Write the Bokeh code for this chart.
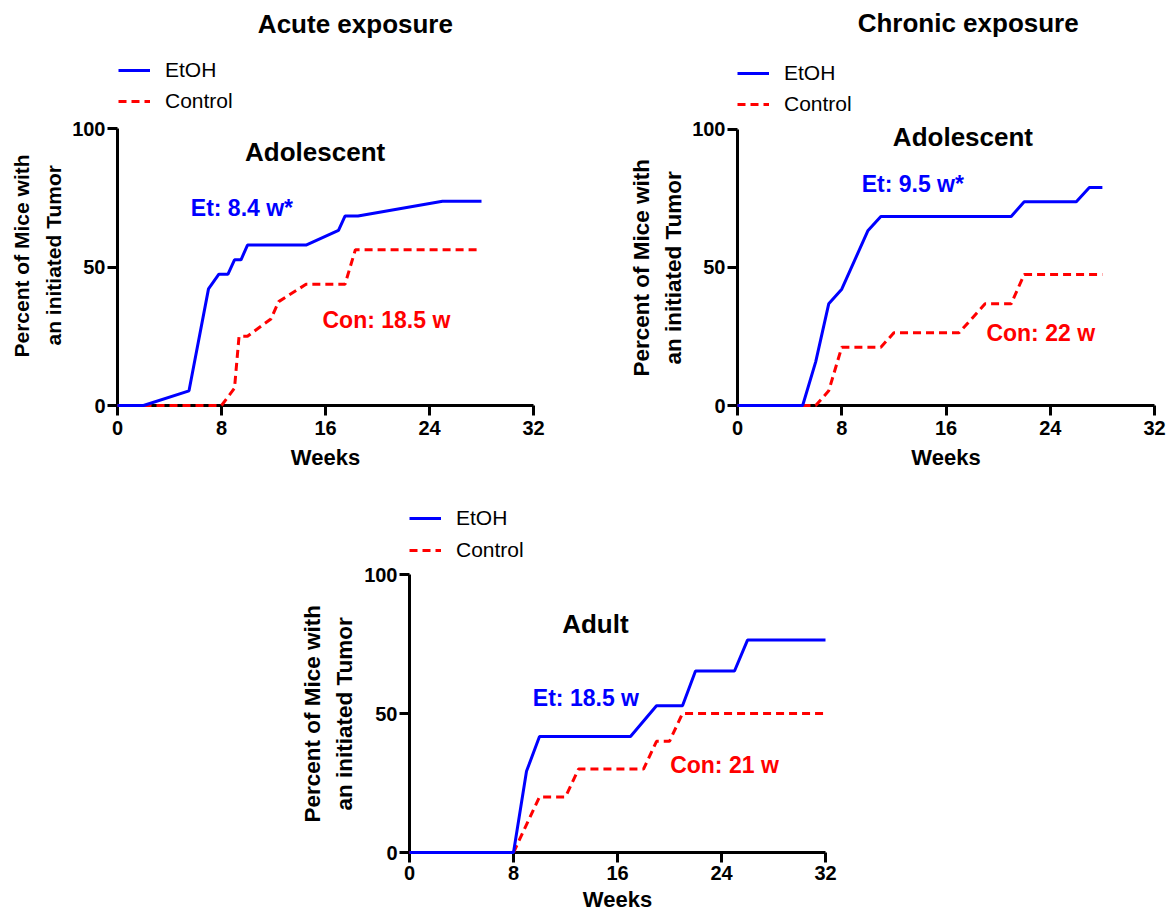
from bokeh.plotting import figure
from bokeh.models import Range1d, Label, Legend, LegendItem, FixedTicker, Title
from bokeh.layouts import column, row
from bokeh.embed import file_html
from bokeh.resources import INLINE

FONT = "Liberation Sans"
BLUE = "#0000FF"
RED = "#FF0000"

x_ticks = [0, 8, 16, 24, 32]
y_ticks = [0, 50, 100]
y_label_lines = ["Percent of Mice with", "an initiated Tumor"]

# Acute exposure, adolescent
acute_etoh_weeks = [0, 2, 5.5, 7, 7.8, 8.5, 9, 9.5, 10, 14.5, 17, 17.5, 18.5, 25, 28]
acute_etoh_pct = [0, 0, 5.3, 42.1, 47.4, 47.4, 52.6, 52.6, 57.9, 57.9, 63.2, 68.4, 68.4, 73.7, 73.7]
acute_con_weeks = [0, 8, 9, 9.35, 10, 11.8, 12.4, 14.5, 17.5, 18.3, 28]
acute_con_pct = [0, 0, 6.25, 25, 25, 31.25, 37.5, 43.75, 43.75, 56.25, 56.25]

# Chronic exposure, adolescent
chronic_etoh_weeks = [0, 5, 6, 7, 8, 10, 11, 21, 22, 26, 27, 28]
chronic_etoh_pct = [0, 0, 15.8, 36.8, 42.1, 63.2, 68.4, 68.4, 73.7, 73.7, 78.9, 78.9]
chronic_con_weeks = [0, 6, 7, 8, 11, 12, 17, 19, 21, 22, 28]
chronic_con_pct = [0, 0, 5.3, 21.1, 21.1, 26.3, 26.3, 36.8, 36.8, 47.4, 47.4]

# Adult
adult_etoh_weeks = [0, 8, 9, 10, 17, 19, 21, 22, 25, 26, 32]
adult_etoh_pct = [0, 0, 29.2, 41.7, 41.7, 52.8, 52.8, 65.3, 65.3, 76.4, 76.4]
adult_con_weeks = [0, 8, 10, 12, 13, 18, 19, 20, 21, 32]
adult_con_pct = [0, 0, 20, 20, 30, 30, 40, 40, 50, 50]


def make_panel(width, height, left, bottom, right, axis_px,
               etoh_x, etoh_y, con_x, con_y, legend_loc, legend_spacing,
               ylab_size, ylab_offsets, ylab_standoffs, x_standoffs):
    frame_h = height - bottom
    y_top = 100.0 * frame_h / axis_px  # extend frame above 100% to hold titles/legend
    p = figure(width=width, height=height, output_backend="svg", toolbar_location=None,
               x_range=Range1d(0, 32), y_range=Range1d(0, y_top),
               min_border_left=left, min_border_top=0,
               min_border_bottom=bottom, min_border_right=right)
    p.outline_line_color = None
    p.grid.visible = False
    p.background_fill_color = "white"
    p.border_fill_color = "white"
    for ax in (p.xaxis, p.yaxis):
        ax.axis_line_width = 3
        ax.axis_line_color = "black"
        ax.major_tick_line_width = 3
        ax.major_tick_out = 10
        ax.major_tick_in = 0
        ax.minor_tick_line_color = None
        ax.major_label_text_font = FONT
        ax.major_label_text_font_style = "bold"
        ax.major_label_text_font_size = "20px"
        ax.major_label_text_color = "black"
        ax.axis_label_text_font = FONT
        ax.axis_label_text_font_style = "bold"
        ax.axis_label_text_color = "black"
    p.yaxis.major_label_standoff = 2
    p.xaxis.major_label_standoff = x_standoffs[0]
    p.yaxis.bounds = (0, 100)
    p.xaxis.ticker = FixedTicker(ticks=x_ticks)
    p.yaxis.ticker = FixedTicker(ticks=y_ticks)
    p.xaxis.axis_label = "Weeks"
    p.xaxis.axis_label_text_font_size = "22px"
    p.xaxis.axis_label_standoff = x_standoffs[1]

    # two-line y label, each line a vertical title placed along the 0-100 span
    for txt, off, so in zip(reversed(y_label_lines), reversed(ylab_offsets), reversed(ylab_standoffs)):
        t = Title(text=txt, align="left", offset=off, standoff=so,
                  text_font=FONT, text_font_style="bold", text_font_size=ylab_size,
                  text_color="black")
        p.add_layout(t, "left")

    r_con = p.line(con_x, con_y, line_color=RED, line_width=3, line_dash="8 5", level="overlay")
    r_eth = p.line(etoh_x, etoh_y, line_color=BLUE, line_width=3, level="overlay")

    legend = Legend(items=[LegendItem(label="EtOH", renderers=[r_eth]),
                           LegendItem(label="Control", renderers=[r_con])],
                    location=legend_loc, orientation="vertical",
                    glyph_width=32, glyph_height=20, label_height=20,
                    label_standoff=15, spacing=legend_spacing, padding=0, margin=0,
                    border_line_color=None, background_fill_alpha=0,
                    label_text_font=FONT, label_text_font_size="21px",
                    label_text_color="black")
    p.add_layout(legend)
    return p


def add_text(p, x, y, text, size, color="black", align="left"):
    p.add_layout(Label(x=x, y=y, text=text, text_font=FONT, text_font_style="bold",
                       text_font_size=size, text_color=color, text_align=align,
                       text_baseline="middle"))


p1 = make_panel(584, 475, 117, 70, 51, 277,
                acute_etoh_weeks, acute_etoh_pct, acute_con_weeks, acute_con_pct,
                (1, 292), 7, "21px", [48, 60], [4, 10], (5, 7))
add_text(p1, 18.3, 137.6, "Acute exposure", "26px", align="center")
add_text(p1, 15.2, 91.6, "Adolescent", "26px", align="center")
add_text(p1, 5.64, 71.4, "Et: 8.4 w*", "23px", BLUE)
add_text(p1, 15.77, 30.9, "Con: 18.5 w", "23px", RED)

p2 = make_panel(585, 475, 153, 69, 15, 277,
                chronic_etoh_weeks, chronic_etoh_pct, chronic_con_weeks, chronic_con_pct,
                (0, 289), 7, "22.5px", [29, 41], [1, 8], (5, 7))
add_text(p2, 17.7, 138.5, "Chronic exposure", "26px", align="center")
add_text(p2, 17.3, 97.3, "Adolescent", "26px", align="center")
add_text(p2, 9.53, 80.2, "Et: 9.5 w*", "23px", BLUE)
add_text(p2, 19.1, 26.3, "Con: 22 w", "23px", RED)

p3 = make_panel(855, 439, 409, 62, 30, 278,
                adult_etoh_weeks, adult_etoh_pct, adult_con_weeks, adult_con_pct,
                (0, 290), 8, "22.5px", [30, 42], [1, 9], (3, 4))
add_text(p3, 14.3, 82.2, "Adult", "26px", align="center")
add_text(p3, 9.49, 55.6, "Et: 18.5 w", "23px", BLUE)
add_text(p3, 20.05, 31.6, "Con: 21 w", "23px", RED)

layout = column(row(p1, p2), p3)

open("out.html", "w").write(file_html(layout, INLINE))
